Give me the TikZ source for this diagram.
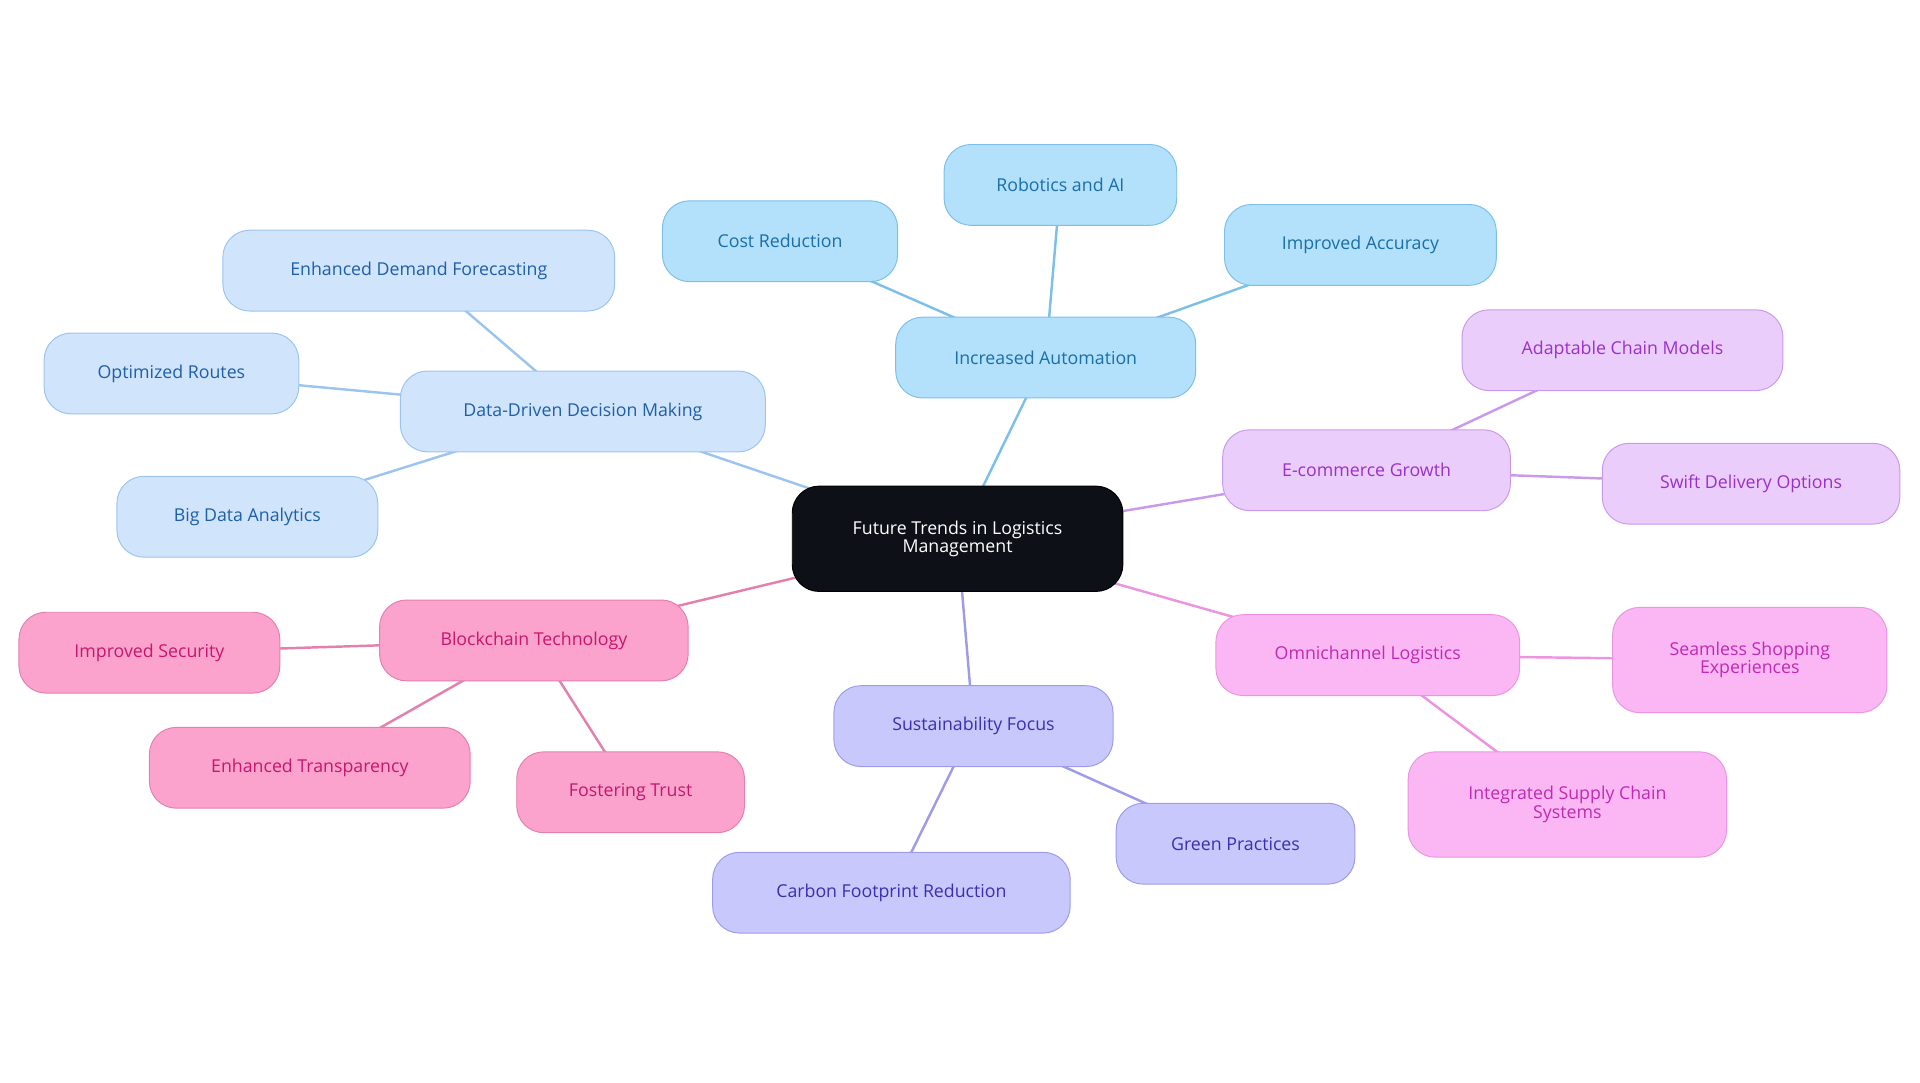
\documentclass[tikz,border=0pt]{standalone}
\usepackage{fontspec}
\setmainfont{Open Sans}
\usetikzlibrary{backgrounds}
\definecolor{bF}{HTML}{B3E0FB}\definecolor{bD}{HTML}{7CC0EA}\definecolor{bT}{HTML}{1A6FA8}
\definecolor{lF}{HTML}{D0E4FC}\definecolor{lD}{HTML}{9CC4EE}\definecolor{lT}{HTML}{1F5FA8}
\definecolor{pF}{HTML}{EBCDFC}\definecolor{pD}{HTML}{C99AEA}\definecolor{pT}{HTML}{9B30C8}
\definecolor{mF}{HTML}{FBB7F4}\definecolor{mD}{HTML}{EC94E2}\definecolor{mT}{HTML}{C02AB0}
\definecolor{rF}{HTML}{FBA3CC}\definecolor{rD}{HTML}{E47FAE}\definecolor{rT}{HTML}{C8156D}
\definecolor{sF}{HTML}{C8C8FC}\definecolor{sD}{HTML}{9C9CEA}\definecolor{sT}{HTML}{3B2FB0}
\definecolor{cF}{HTML}{0D1117}
\tikzset{
 nd/.style={rounded corners=22pt,minimum height=66pt,align=center,font=\fontsize{14.5}{15}\selectfont,line width=0.8pt},
 B/.style={nd,fill=bF,draw=bD,text=bT},
 L/.style={nd,fill=lF,draw=lD,text=lT},
 P/.style={nd,fill=pF,draw=pD,text=pT},
 M/.style={nd,fill=mF,draw=mD,text=mT},
 R/.style={nd,fill=rF,draw=rD,text=rT},
 S/.style={nd,fill=sF,draw=sD,text=sT},
 e/.style={line width=2pt}
}
\begin{document}
\begin{tikzpicture}[x=1pt,y=-1pt]
\useasboundingbox (0,0) rectangle (1568,884);
\node[nd,fill=cF,draw=black,text=white,minimum width=270pt,minimum height=86pt] (c) at (782,440) {Future Trends in Logistics\\Management};
\node[B,minimum width=245pt] (ia) at (854,292) {Increased Automation};
\node[B,minimum width=190pt] (rob) at (866,151) {Robotics and AI};
\node[B,minimum width=192pt] (cost) at (637,197) {Cost Reduction};
\node[B,minimum width=222pt] (acc) at (1111,200) {Improved Accuracy};
\node[L,minimum width=298pt] (dd) at (476,336) {Data-Driven Decision Making};
\node[L,minimum width=320pt] (edf) at (342,221) {Enhanced Demand Forecasting};
\node[L,minimum width=208pt] (opt) at (140,305) {Optimized Routes};
\node[L,minimum width=213pt] (bda) at (202,422) {Big Data Analytics};
\node[P,minimum width=235pt] (ec) at (1116,384) {E-commerce Growth};
\node[P,minimum width=262pt] (ad) at (1325,286) {Adaptable Chain Models};
\node[P,minimum width=243pt] (sw) at (1430,395) {Swift Delivery Options};
\node[M,minimum width=248pt] (om) at (1117,535) {Omnichannel Logistics};
\node[M,minimum width=224pt,minimum height=86pt] (se) at (1429,539) {Seamless Shopping\\Experiences};
\node[M,minimum width=260pt,minimum height=86pt] (is) at (1280,657) {Integrated Supply Chain\\Systems};
\node[R,minimum width=252pt] (bl) at (436,523) {Blockchain Technology};
\node[R,minimum width=213pt] (sec) at (122,533) {Improved Security};
\node[R,minimum width=262pt] (tr) at (253,627) {Enhanced Transparency};
\node[R,minimum width=186pt] (fo) at (515,647) {Fostering Trust};
\node[S,minimum width=228pt] (su) at (795,593) {Sustainability Focus};
\node[S,minimum width=292pt] (ca) at (728,729) {Carbon Footprint Reduction};
\node[S,minimum width=195pt] (gr) at (1009,689) {Green Practices};
\begin{scope}[on background layer]
\draw[e,bD] (c.center)--(ia.center) (ia.center)--(rob.center) (ia.center)--(cost.center) (ia.center)--(acc.center);
\draw[e,lD] (c.center)--(dd.center) (dd.center)--(edf.center) (dd.center)--(opt.center) (dd.center)--(bda.center);
\draw[e,pD] (c.center)--(ec.center) (ec.center)--(ad.center) (ec.center)--(sw.center);
\draw[e,mD] (c.center)--(om.center) (om.center)--(se.center) (om.center)--(is.center);
\draw[e,rD] (c.center)--(bl.center) (bl.center)--(sec.center) (bl.center)--(tr.center) (bl.center)--(fo.center);
\draw[e,sD] (c.center)--(su.center) (su.center)--(ca.center) (su.center)--(gr.center);
\end{scope}
\end{tikzpicture}
\end{document}
